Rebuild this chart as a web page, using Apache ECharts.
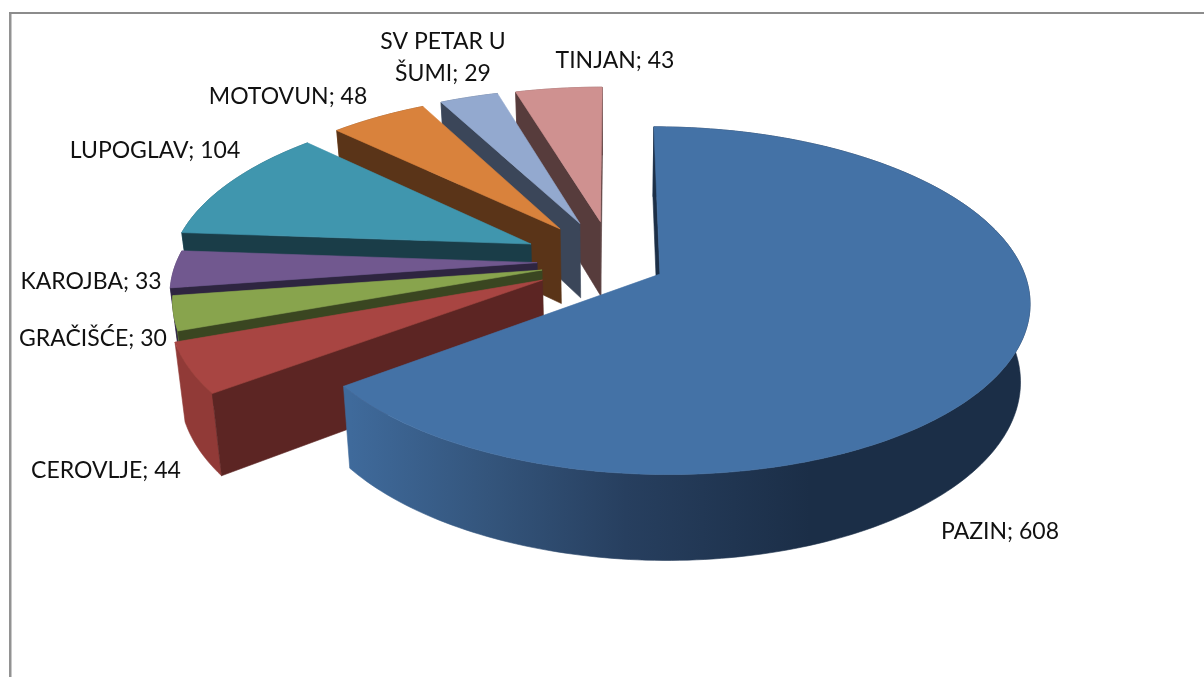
<!DOCTYPE html>
<html>
<head>
<meta charset="utf-8">
<style>
  html, body { margin: 0; padding: 0; background: #fff; }
  #chart { width: 1204px; height: 677px; }
</style>
<script src="https://cdn.jsdelivr.net/npm/echarts@6/dist/echarts.min.js"></script>
</head>
<body>
<div id="chart"></div>
<script>
const categories = ["PAZIN", "CEROVLJE", "GRAČIŠĆE", "KAROJBA", "LUPOGLAV", "MOTOVUN", "SV PETAR U ŠUMI", "TINJAN"];
const values = [608, 44, 30, 33, 104, 48, 29, 43];
const topColors = ["#4472a6", "#a84542", "#88a44d", "#71588f", "#4096ae", "#d9823c", "#93a9cf", "#cf9190"];
const wallColors = ["#1c2f47", "#5c2523", "#3a4621", "#2e2540", "#1a3d48", "#5a3418", "#3b4659", "#573c3c"];
const rimColors = ["#1c2f47", "#913a37", "#6f863f", "#5c4875", "#2c6473", "#8f5527", "#62718b", "#8a6160"];

// how far each slice was pulled out, in pie radii
const explodeX = [0.126, -0.195, -0.198, -0.213, -0.234, -0.154, -0.098, -0.039];
const explodeY = [-0.084, -0.119, -0.06, -0.016, 0.098, 0.193, 0.228, 0.24];
// label centres on the page
const labelX = [1000, 106, 93, 91, 155, 288, 443, 615];
const labelY = [532, 471, 339, 282, 151, 97, 58, 61];

// camera
const CX = 614, CY = 260, RX = 360, RY = 165.5, PERSP = 0.151;
const DEPTH = 76, BOTTOM_SCALE = 0.977;

const total = values.reduce((a, b) => a + b, 0);
const toAngle = (v) => echarts.number.linearMap(v, [0, total], [0, 2 * Math.PI]);

function project(x, y, bottom) {
  const w = 1 + PERSP * y;
  if (!bottom) return [CX + RX * x / w, CY - RY * y / w];
  return [CX + RX * BOTTOM_SCALE * x / w, CY + (DEPTH - RY * BOTTOM_SCALE * y) / w];
}

function poly(points, fill) {
  return {
    type: "polygon",
    shape: { points },
    style: { fill, stroke: fill, lineWidth: 0.6 },
    silent: true,
  };
}

function sliceFaces(i) {
  const before = values.slice(0, i).reduce((a, b) => a + b, 0);
  const start = toAngle(before);
  const end = toAngle(before + values[i]);
  const ox = explodeX[i], oy = explodeY[i];
  const rim = (a) => [ox + Math.sin(a), oy + Math.cos(a)];

  const arc = [];
  const steps = Math.max(4, Math.ceil((end - start) / 0.02));
  for (let s = 0; s <= steps; s++) arc.push(rim(start + (end - start) * s / steps));

  const apexTop = project(ox, oy, false);
  const apexBot = project(ox, oy, true);
  const topFace = [apexTop].concat(arc.map((p) => project(p[0], p[1], false)));
  const rimWall = arc.map((p) => project(p[0], p[1], false))
    .concat(arc.slice().reverse().map((p) => project(p[0], p[1], true)));

  const rimFill = i === 0 ? {
    type: "linear", global: true, x: 350, y: 0, x2: 810, y2: 0,
    colorStops: [
      { offset: 0, color: "#3f6a9b" },
      { offset: 0.3, color: "#34557c" },
      { offset: 0.6, color: "#273f5f" },
      { offset: 1, color: "#1b2e47" },
    ],
  } : rimColors[i];

  const faces = [poly(rimWall, rimFill)];

  // a cut face only shows when dropping down leaves the top surface
  [[start, start + 0.02], [end, end - 0.02]].forEach(([edge, inner]) => {
    const e = rim(edge), n = rim(inner);
    const rimTop = project(e[0], e[1], false);
    const rimBot = project(e[0], e[1], true);
    const inTop = project(n[0], n[1], false);
    const dx = rimTop[0] - apexTop[0], dy = rimTop[1] - apexTop[1];
    const side = (p, q) => dx * (q[1] - p[1]) - dy * (q[0] - p[0]);
    if (side(apexTop, apexBot) * side(apexTop, inTop) < 0) {
      faces.push(poly([apexTop, rimTop, rimBot, apexBot], wallColors[i]));
    }
  });

  faces.push(poly(topFace, topColors[i]));
  return faces;
}

const chart = echarts.init(document.getElementById("chart"), undefined, { renderer: "canvas" });
chart.setOption({
  animation: false,
  backgroundColor: "#fff",
  graphic: [
    { type: "rect", shape: { x: 9, y: 12, width: 2.5, height: 665 }, style: { fill: "#929292" }, silent: true },
    { type: "rect", shape: { x: 9, y: 12, width: 1195, height: 2 }, style: { fill: "#8c8c8c" }, silent: true },
  ],
  series: [{
    type: "custom",
    coordinateSystem: "none",
    silent: true,
    // drawn back to front: last slice sits furthest from the viewer
    data: values.map((v, i) => [i, v]).reverse(),
    renderItem: (params, api) => ({ type: "group", children: sliceFaces(api.value(0)) }),
  }, {
    type: "custom",
    coordinateSystem: "none",
    silent: true,
    z: 5,
    data: values.map((v, i) => [i, v]),
    renderItem: (params, api) => {
      const i = api.value(0);
      const text = (categories[i] + "; " + api.value(1)).replace("U ŠUMI", "U\nŠUMI");
      return {
        type: "text",
        style: {
          x: labelX[i], y: labelY[i], text,
          align: "center", verticalAlign: "middle",
          font: "23px Lato", lineHeight: 32, fill: "#111",
        },
      };
    },
  }],
});
window.addEventListener("resize", () => chart.resize());
</script>
</body>
</html>
